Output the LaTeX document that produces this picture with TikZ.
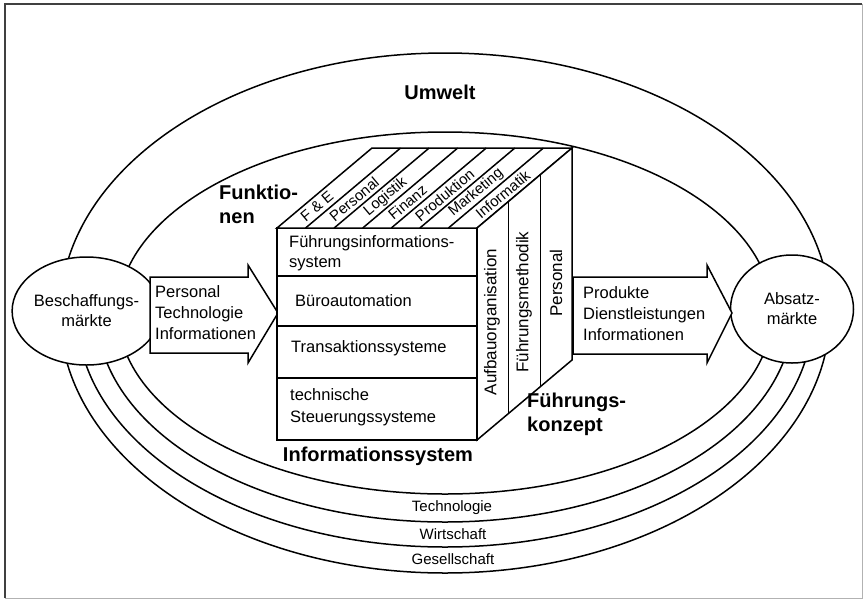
\documentclass[tikz,border=0pt]{standalone}
\usepackage{fontspec}
\setmainfont{Liberation Sans}
\usetikzlibrary{shapes.geometric}
\begin{document}
\begin{tikzpicture}[x=1pt,y=-1pt,
  ln/.style={line width=1.5pt, line join=miter},
  txt/.style={font=\fontsize{16.5}{21}\selectfont, inner sep=0pt, align=left},
  small/.style={font=\fontsize{15}{18}\selectfont, inner sep=0pt},
  bigb/.style={font=\fontsize{20}{24}\selectfont\bfseries, inner sep=0pt, align=left},
  mkt/.style={ellipse, draw, line width=1.5pt, fill=white, minimum width=123pt, minimum height=108pt, inner sep=0pt, align=center, font=\fontsize{16.5}{20}\selectfont},
  toplbl/.style={font=\fontsize{15}{18}\selectfont, inner sep=0pt, rotate=40},
  sidelbl/.style={font=\fontsize{17}{20}\selectfont, inner sep=0pt, rotate=90},
]
\useasboundingbox (0,0) rectangle (864,603);
% frame
\draw[line width=1.8pt, black!75] (862,4) -- (5,4) -- (5,598);
\draw[line width=1pt, black!30] (862,4) -- (862,598) -- (5,598);

% ellipses
\draw[ln] (445,313) ellipse [x radius=385, y radius=260];
\draw[ln] (445,313) ellipse [x radius=327, y radius=181];
\draw[ln] (97,313) arc[start angle=180, end angle=0, x radius=348, y radius=209];
\draw[ln] (77,313) arc[start angle=180, end angle=0, x radius=368, y radius=234];

% markets
\node[mkt] (besch) at (86.5,311) {Beschaffungs-\\märkte};
\node[mkt] (absatz) at (792,309) {Absatz-\\märkte};

% arrows
\draw[ln, fill=white] (150,277) -- (248,277) -- (248,265) -- (278,313) -- (248,363) -- (248,353) -- (150,353) -- cycle;
\draw[ln, fill=white] (573,277) -- (707,277) -- (707,265) -- (732,313) -- (707,363) -- (707,354) -- (573,354) -- cycle;
\node[txt, anchor=west] (inp) at (155,313) {Personal\\Technologie\\Informationen};
\node[txt, anchor=west] (outp) at (583,314) {Produkte\\Dienstleistungen\\Informationen};

% cube
\coordinate (F1) at (277,228);
\coordinate (F2) at (477,228);
\coordinate (F3) at (477,440);
\coordinate (B1) at (372,148);
\coordinate (B2) at (572,148);
\coordinate (B3) at (572,360);
\draw[ln, fill=white] (F1) rectangle (F3);
\draw[ln, fill=white] (F1) -- (B1) -- (B2) -- (F2) -- cycle;
\draw[ln, fill=white] (F2) -- (B2) -- (B3) -- (F3) -- cycle;
\draw[ln] (277,276) -- (477,276);
\draw[ln] (277,326) -- (477,326);
\draw[ln] (277,378) -- (477,378);
\foreach \i in {1,...,6} \draw[ln] ({277+\i*200/7},228) -- ++(95,-80);
\draw[ln] (508.67,201.33) -- ++(0,212);
\draw[ln] (540.33,174.67) -- ++(0,212);

% front labels
\node[txt, anchor=west, font=\fontsize{16.5}{20}\selectfont] (fis) at (289,253) {Führungsinformations-\\system};
\node[txt, anchor=west] (buero) at (295,301) {Büroautomation};
\node[txt, anchor=west] (trans) at (291,348) {Transaktionssysteme};
\node[txt, anchor=west, font=\fontsize{16.5}{22}\selectfont] (tech) at (290,407) {technische\\Steuerungssysteme};

% top labels
\node[toplbl] (fe) at (317,206.4) {F \& E};
\node[toplbl] (pers) at (354.1,199.2) {Personal};
\node[toplbl] (log) at (385.7,196.8) {Logistik};
\node[toplbl] (fin) at (407.5,202.4) {Finanz};
\node[toplbl] (prod) at (444.7,195.2) {Produktion};
\node[toplbl] (mark) at (476.1,192.8) {Marketing};
\node[toplbl] (inf) at (502.8,194.4) {Informatik};

% side labels
\node[sidelbl] (aufbau) at (492,322) {Aufbauorganisation};
\node[sidelbl] (fmeth) at (524,302) {Führungsmethodik};
\node[sidelbl] (spers) at (556,283) {Personal};

% bold labels
\node[bigb] (umwelt) at (440,92) {Umwelt};
\node[bigb, anchor=west] (funk) at (219,204) {Funktio-\\nen};
\node[bigb, anchor=west] (fk) at (527,414) {Führungs-\\konzept};
\node[bigb] (is) at (378,456) {Informationssystem};

% ring labels
\node[small] (tl) at (452,508) {Technologie};
\node[small] (wl) at (453,534) {Wirtschaft};
\node[small] (gl) at (453,559) {Gesellschaft};
\end{tikzpicture}
\end{document}
